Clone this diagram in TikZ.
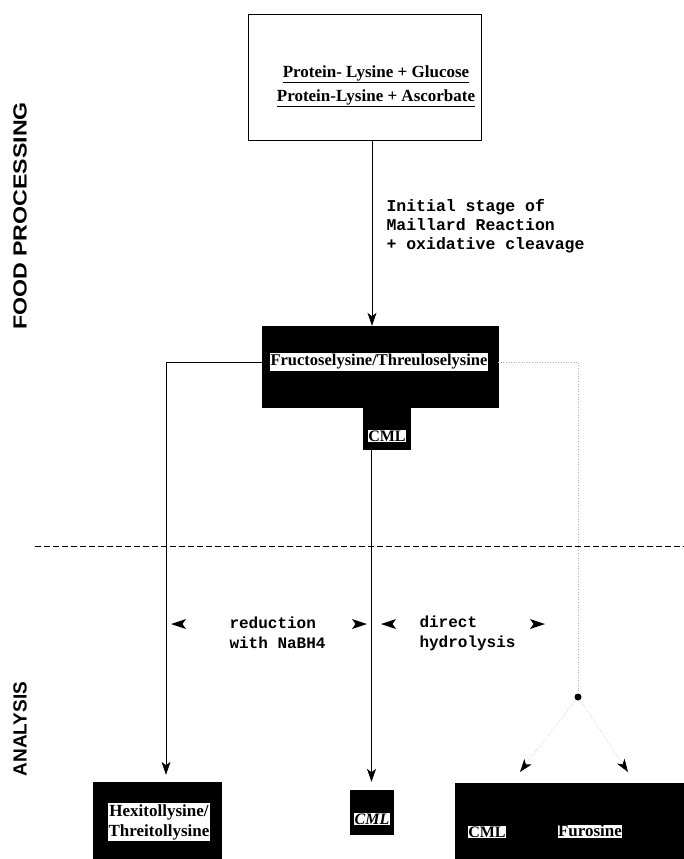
\documentclass[tikz,border=0pt]{standalone}
\usepackage{fontspec}
\setmainfont{Liberation Serif}
\newfontfamily\monofam{Liberation Mono}
\newfontfamily\sansfam{Liberation Sans}
\usetikzlibrary{arrows.meta,calc}
\begin{document}
\begin{tikzpicture}[x=1pt,y=-1pt,
  serif/.style={font=\fontsize{17}{24}\selectfont\bfseries},
  mono/.style={font=\fontsize{16.5}{19}\selectfont\monofam\bfseries, align=left},
  side/.style={rotate=90, font=\fontsize{19}{19}\selectfont\sansfam\bfseries},
  blackbox/.style={fill=black, draw=black, inner sep=0pt},
  hl/.style={fill=white, inner sep=1pt, text=black, font=\fontsize{16}{18}\selectfont\bfseries},
  arr/.style={draw=black, line width=0.7pt, -{Stealth[length=13pt,width=9pt,inset=3.5pt]}},
  faint/.style={draw=black!30, dotted, line width=0.6pt},
  faintarr/.style={draw=black!25, dotted, line width=0.6pt, -{Stealth[length=13pt,width=9pt,inset=3.5pt,black,fill=black]}},
  sidehead/.style={fill=black}
]
\useasboundingbox (0,0) rectangle (684,859);
\fill[white] (0,0) rectangle (684,859);

% side labels
\node[side] (fp) at (20,216) {\scalebox{1.22}[1]{FOOD PROCESSING}};
\node[side] (an) at (20,729) {\scalebox{1.0}[1]{ANALYSIS}};

% divider
\draw[dashed, dash pattern=on 6pt off 3pt, line width=0.6pt] (35,546) -- (684,546);

% top box
\node[draw=black, line width=0.6pt, minimum width=233, minimum height=126, inner sep=0] (top) at (364.5,77) {};
\node[serif, align=center] (toptext) at (376,86) {\underline{Protein- Lysine + Glucose}\\\underline{Protein-Lysine + Ascorbate}};

% Fructoselysine box and tab
\node[blackbox, minimum width=236, minimum height=81] (fructo) at (380,366.5) {};
\node[blackbox, minimum width=47, minimum height=42] (tab) at (387,428) {};
\node[hl, font=\fontsize{16.5}{18}\selectfont\bfseries] (fructotext) at (379,362) {Fructoselysine/Threuloselysine};
\node[hl, inner sep=0.5pt] (tabtext) at (387,436) {CML};

% bottom boxes
\node[blackbox, minimum width=128, minimum height=77] (hexi) at (157,820.5) {};
\node[hl, align=center, inner sep=1pt, font=\fontsize{17}{20}\selectfont\bfseries] (hexitext) at (159,822) {Hexitollysine/\\Threitollysine};
\node[blackbox, minimum width=43, minimum height=44] (cml) at (371.5,812) {};
\node[hl, inner sep=0.5pt] (cmltext) at (372,819) {\itshape CML};
\node[blackbox, minimum width=235, minimum height=77] (fur) at (572.5,821.5) {};
\node[hl, inner sep=0.5pt] (furcml) at (487,832) {CML};
\node[hl, inner sep=0.5pt, font=\fontsize{17}{18}\selectfont\bfseries] (furfur) at (590,831) {Furosine};

% text labels
\node[mono, anchor=west] (maillard) at (383,226) {Initial stage of\\Maillard Reaction\\+ oxidative cleavage};
\node[mono, font=\fontsize{16}{20}\selectfont\monofam\bfseries, anchor=west] (redu) at (226,633) {reduction\\with NaBH4};
\node[mono, font=\fontsize{16}{20}\selectfont\monofam\bfseries, anchor=west] (hydro) at (416,633) {direct\\hydrolysis};

% connectors
\coordinate (ax) at (372,0);
\coordinate (lx) at (166,0);
\draw[arr] (top.south -| ax) -- (fructo.north -| ax);
\draw[arr, shorten >=7pt] (fructo.west |- fructotext.west) -| (hexi.north -| lx);
\draw[arr, shorten >=8pt] (tab.south -| cml.north) -- (cml.north);

% right branch
\node[circle, fill=black, inner sep=0pt, minimum size=7pt] (dot) at (578,697) {};
\draw[faint] (fructo.east |- fructotext.east) -| (dot.north);
\coordinate (fl) at (520,772);
\coordinate (fr) at (628,772);
\draw[faintarr] (dot) -- (fl);
\draw[faintarr] (dot) -- (fr);

% loose arrowheads
\fill[sidehead] (171,624) -- (186,619) -- (182.5,624) -- (186,629) -- cycle;
\fill[sidehead] (367,624) -- (352,619) -- (355.5,624) -- (352,629) -- cycle;
\fill[sidehead] (381,624) -- (396,619) -- (392.5,624) -- (396,629) -- cycle;
\fill[sidehead] (545,624) -- (530,619) -- (533.5,624) -- (530,629) -- cycle;
\end{tikzpicture}
\end{document}
